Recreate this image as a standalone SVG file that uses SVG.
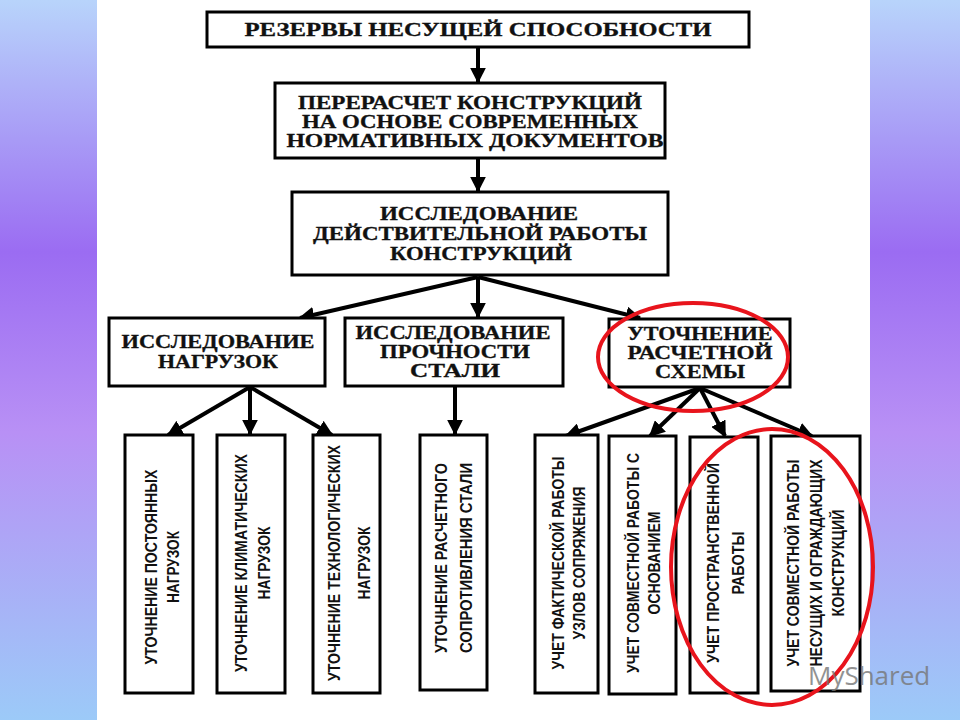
<svg xmlns="http://www.w3.org/2000/svg" width="960" height="720" viewBox="0 0 960 720">
<defs>
<linearGradient id="side" x1="0" y1="0" x2="0" y2="1">
<stop offset="0" stop-color="#b8d4fb"/>
<stop offset="0.35" stop-color="#9b6cf2"/>
<stop offset="0.6" stop-color="#b890f5"/>
<stop offset="1" stop-color="#9ccaf8"/>
</linearGradient>
<marker id="ah" viewBox="0 0 10 10" refX="9" refY="5" markerWidth="4" markerHeight="4" orient="auto" markerUnits="strokeWidth">
<path d="M0,0 L10,5 L0,10 z" fill="#000"/>
</marker>
<style>
.b{fill:#fff;stroke:#000;stroke-width:3}
.h{font-family:"Liberation Serif","DejaVu Serif",serif;font-weight:900;font-size:18px;text-anchor:middle;fill:#111;stroke:#111;stroke-width:0.3}
.v{font-family:"Liberation Sans",sans-serif;font-weight:bold;font-size:17px;text-anchor:middle;fill:#111}
.c line{stroke:#000;stroke-width:4;marker-end:url(#ah)}
.r{fill:none;stroke:#e8141c;stroke-width:4}
</style>
</defs>
<rect width="960" height="720" fill="#fff"/>
<rect x="0" y="0" width="97" height="720" fill="url(#side)"/>
<rect x="870" y="0" width="90" height="720" fill="url(#side)"/>

<g class="c">
<line x1="478" y1="47" x2="478" y2="82"/>
<line x1="478" y1="158" x2="478" y2="191"/>
<line x1="478" y1="277" x2="300" y2="318"/>
<line x1="478" y1="277" x2="478" y2="317"/>
<line x1="478" y1="277" x2="640" y2="318"/>
<line x1="250" y1="387" x2="168" y2="435"/>
<line x1="250" y1="387" x2="250" y2="434"/>
<line x1="250" y1="387" x2="332" y2="435"/>
<line x1="455" y1="387" x2="455" y2="434"/>
<line x1="700" y1="388" x2="566" y2="436"/>
<line x1="700" y1="388" x2="650" y2="436"/>
<line x1="700" y1="388" x2="725" y2="436"/>
<line x1="700" y1="388" x2="812" y2="436"/>
</g>

<g id="n1"><rect class="b" x="207" y="12" width="542" height="35"/><text class="h" x="478" y="36" textLength="467" lengthAdjust="spacingAndGlyphs">РЕЗЕРВЫ НЕСУЩЕЙ СПОСОБНОСТИ</text></g>
<g id="n2"><rect class="b" x="275" y="83" width="390" height="75"/><text class="h" x="470" y="109" textLength="344" lengthAdjust="spacingAndGlyphs">ПЕРЕРАСЧЕТ КОНСТРУКЦИЙ</text><text class="h" x="470" y="128" textLength="336" lengthAdjust="spacingAndGlyphs">НА ОСНОВЕ СОВРЕМЕННЫХ</text><text class="h" x="475" y="147" textLength="377" lengthAdjust="spacingAndGlyphs">НОРМАТИВНЫХ ДОКУМЕНТОВ</text></g>
<g id="n3"><rect class="b" x="292" y="192" width="376" height="83"/><text class="h" x="479" y="220" textLength="198" lengthAdjust="spacingAndGlyphs">ИССЛЕДОВАНИЕ</text><text class="h" x="480" y="240" textLength="334" lengthAdjust="spacingAndGlyphs">ДЕЙСТВИТЕЛЬНОЙ РАБОТЫ</text><text class="h" x="481" y="260" textLength="182" lengthAdjust="spacingAndGlyphs">КОНСТРУКЦИЙ</text></g>
<g id="n4"><rect class="b" x="109" y="318" width="216" height="68"/><text class="h" x="218" y="348" textLength="193" lengthAdjust="spacingAndGlyphs">ИССЛЕДОВАНИЕ</text><text class="h" x="218" y="368" textLength="120" lengthAdjust="spacingAndGlyphs">НАГРУЗОК</text></g>
<g id="n5"><rect class="b" x="345" y="318" width="218" height="68"/><text class="h" x="453" y="339" textLength="195" lengthAdjust="spacingAndGlyphs">ИССЛЕДОВАНИЕ</text><text class="h" x="455" y="358" textLength="150" lengthAdjust="spacingAndGlyphs">ПРОЧНОСТИ</text><text class="h" x="455" y="377" textLength="90" lengthAdjust="spacingAndGlyphs">СТАЛИ</text></g>
<g id="n6"><rect class="b" x="609" y="319" width="181" height="68"/><text class="h" x="700" y="340" textLength="145" lengthAdjust="spacingAndGlyphs">УТОЧНЕНИЕ</text><text class="h" x="700" y="359" textLength="145" lengthAdjust="spacingAndGlyphs">РАСЧЕТНОЙ</text><text class="h" x="700" y="378" textLength="90" lengthAdjust="spacingAndGlyphs">СХЕМЫ</text></g>

<g id="b1"><rect class="b" x="125" y="435" width="68" height="258"/><text class="v" transform="translate(157,567) rotate(-90)" textLength="195" lengthAdjust="spacingAndGlyphs">УТОЧНЕНИЕ ПОСТОЯННЫХ</text><text class="v" transform="translate(179,567) rotate(-90)" textLength="72" lengthAdjust="spacingAndGlyphs">НАГРУЗОК</text></g>
<g id="b2"><rect class="b" x="217" y="435" width="68" height="258"/><text class="v" transform="translate(247,563) rotate(-90)" textLength="218" lengthAdjust="spacingAndGlyphs">УТОЧНЕНИЕ КЛИМАТИЧЕСКИХ</text><text class="v" transform="translate(270,563) rotate(-90)" textLength="73" lengthAdjust="spacingAndGlyphs">НАГРУЗОК</text></g>
<g id="b3"><rect class="b" x="313" y="435" width="67" height="258"/><text class="v" transform="translate(340,563) rotate(-90)" textLength="236" lengthAdjust="spacingAndGlyphs">УТОЧНЕНИЕ ТЕХНОЛОГИЧЕСКИХ</text><text class="v" transform="translate(370,563) rotate(-90)" textLength="73" lengthAdjust="spacingAndGlyphs">НАГРУЗОК</text></g>
<g id="b4"><rect class="b" x="420" y="435" width="67" height="255"/><text class="v" transform="translate(447,558) rotate(-90)" textLength="190" lengthAdjust="spacingAndGlyphs">УТОЧНЕНИЕ РАСЧЕТНОГО</text><text class="v" transform="translate(472,558) rotate(-90)" textLength="190" lengthAdjust="spacingAndGlyphs">СОПРОТИВЛЕНИЯ СТАЛИ</text></g>
<g id="b5"><rect class="b" x="535" y="435" width="63" height="258"/><text class="v" transform="translate(564,563) rotate(-90)" textLength="213" lengthAdjust="spacingAndGlyphs">УЧЕТ ФАКТИЧЕСКОЙ РАБОТЫ</text><text class="v" transform="translate(585,563) rotate(-90)" textLength="153" lengthAdjust="spacingAndGlyphs">УЗЛОВ СОПРЯЖЕНИЯ</text></g>
<g id="b6"><rect class="b" x="609" y="436" width="67" height="258"/><text class="v" transform="translate(639,563) rotate(-90)" textLength="220" lengthAdjust="spacingAndGlyphs">УЧЕТ СОВМЕСТНОЙ РАБОТЫ С</text><text class="v" transform="translate(660,563) rotate(-90)" textLength="103" lengthAdjust="spacingAndGlyphs">ОСНОВАНИЕМ</text></g>
<g id="b7"><rect class="b" x="690" y="437" width="68" height="256"/><text class="v" transform="translate(719,563) rotate(-90)" textLength="200" lengthAdjust="spacingAndGlyphs">УЧЕТ ПРОСТРАНСТВЕННОЙ</text><text class="v" transform="translate(744,563) rotate(-90)" textLength="63" lengthAdjust="spacingAndGlyphs">РАБОТЫ</text></g>
<g id="b8"><rect class="b" x="771" y="436" width="89" height="255"/><text class="v" transform="translate(799,563) rotate(-90)" textLength="207" lengthAdjust="spacingAndGlyphs">УЧЕТ СОВМЕСТНОЙ РАБОТЫ</text><text class="v" transform="translate(822,563) rotate(-90)" textLength="207" lengthAdjust="spacingAndGlyphs">НЕСУЩИХ И ОГРАЖДАЮЩИХ</text><text class="v" transform="translate(844,563) rotate(-90)" textLength="107" lengthAdjust="spacingAndGlyphs">КОНСТРУКЦИЙ</text></g>

<g id="marks">
<ellipse class="r" cx="693" cy="357" rx="95" ry="54"/>
<ellipse class="r" cx="772" cy="567" rx="101" ry="138"/>
</g>
<text x="808" y="685" font-family="'Open Sans','DejaVu Sans',sans-serif" font-size="26" fill="#777" opacity="0.8">MyShared</text>
</svg>
